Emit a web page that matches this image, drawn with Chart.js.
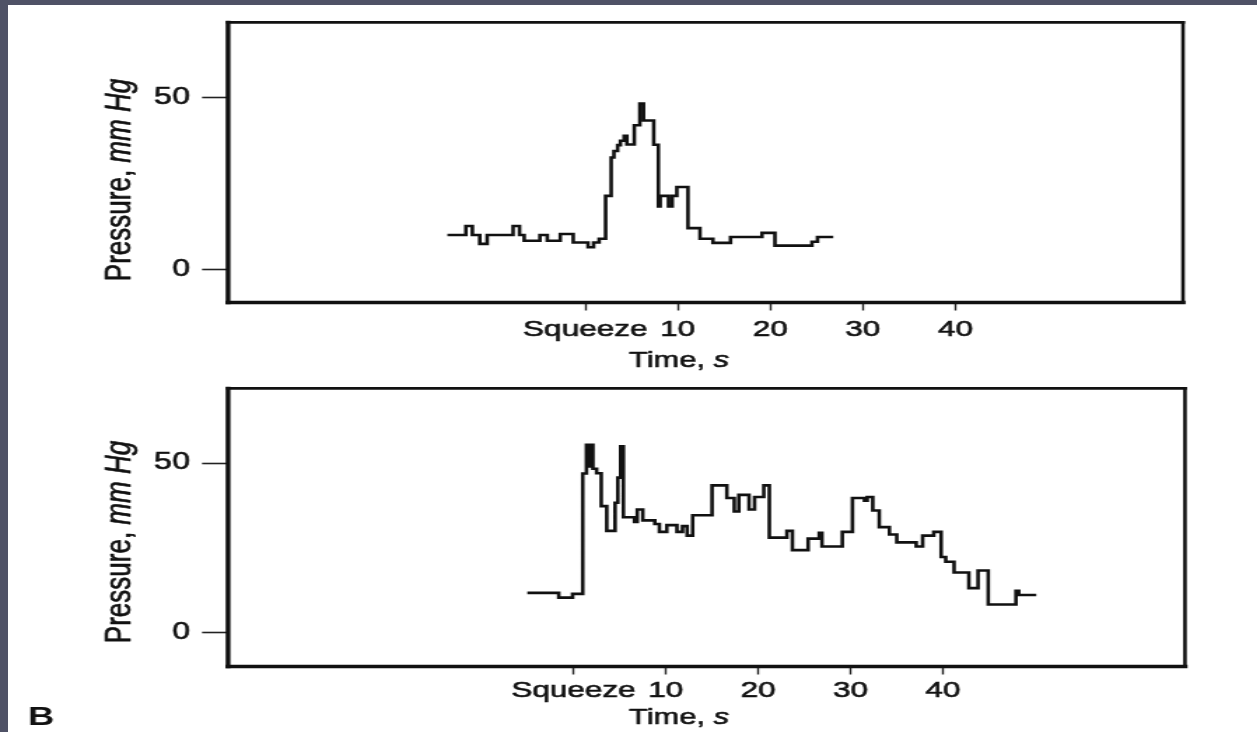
<!DOCTYPE html>
<html>
<head>
<meta charset="utf-8">
<script src="https://cdn.jsdelivr.net/npm/chart.js@4.4.1/dist/chart.umd.min.js"></script>
<style>
  html, body { margin: 0; padding: 0; background: #fff; width: 1257px; height: 732px; overflow: hidden; position: relative; }
  .edge-top { position: absolute; left: 0; top: 0; width: 1257px; height: 5px; background: #4f5266; z-index: 2; }
  .edge-left { position: absolute; left: 0; top: 0; width: 8px; height: 732px; background: #4f5266; z-index: 2; }
  canvas { position: absolute; left: 0; transform: scaleX(1.4); transform-origin: 0 0; }
  #upper { top: 0; }
  #lower { top: 366px; }
</style>
</head>
<body>
<canvas id="upper" width="898" height="378"></canvas>
<canvas id="lower" width="898" height="366"></canvas>
<div class="edge-top"></div>
<div class="edge-left"></div>
<script>
// Time axis ticks (seconds after the squeeze) and their labels
const timeTicks = [0, 10, 20, 30, 40];
const timeTickLabels = ['Squeeze', '10', '20', '30', '40'];
// Pressure axis ticks (mm Hg)
const pressureTicks = [0, 50];

// Upper trace: step start times (s) and pressure held from each time (mm Hg)
const upperTime = [-14.9, -12.9, -12.2, -11.4, -10.6, -7.8, -7.1, -6.6, -4.9, -4.1,
  -2.7, -1.3, 0.3, 0.9, 1.5, 2.2, 2.8, 3.1, 3.5, 3.8,
  4.2, 4.5, 5.3, 5.9, 6.3, 7.4, 7.9, 8.1, 9.0, 9.4,
  9.9, 11.1, 12.4, 13.8, 15.7, 19.1, 20.5, 24.5, 25.1, 26.8];
const upperPressure = [10, 12.6, 10, 7.4, 10, 12.6, 10, 8.3, 10, 8.3,
  10.3, 7.8, 6.4, 7.8, 8.9, 21.4, 32.6, 34.5, 36.2, 37.5,
  38.9, 36.4, 42, 48.3, 43.4, 36.3, 18.3, 21.4, 18.3, 21.4,
  24, 12, 8.9, 7.7, 9.4, 10.6, 6.9, 8, 9.4, 9.4];

// Lower trace: step start times (s) and pressure held from each time (mm Hg)
const lowerTime = [-5.0, -1.6, -0.1, 1.0, 1.4, 1.65, 1.8, 2.1, 2.5, 3.0,
  3.6, 4.5, 4.8, 5.1, 5.4, 6.6, 6.9, 7.5, 8.8, 9.3,
  10.1, 11.2, 11.8, 12.3, 12.9, 15.0, 16.6, 17.4, 17.9, 19.0,
  19.6, 20.6, 21.2, 23.1, 23.7, 25.4, 26.6, 26.9, 29.1, 30.2,
  31.5, 31.8, 32.4, 33.1, 34.2, 35.0, 37.1, 37.8, 39.0, 39.8,
  40.3, 41.2, 42.8, 43.8, 44.9, 47.9, 48.2, 50.1];
const lowerPressure = [11.7, 10.3, 11.4, 46.9, 55.4, 49, 55.4, 48.3, 47, 37.3,
  30, 38.3, 45.7, 54.9, 34, 32.6, 36.3, 33.1, 32, 29.7,
  31.7, 29.7, 31.4, 28.6, 34.6, 43.4, 39.7, 35.7, 40.6, 36.3,
  40, 43.4, 28, 30, 24.3, 27.7, 29.4, 25.4, 29.7, 39.7,
  38.9, 40, 36, 31.1, 28.9, 26.6, 25.4, 28.6, 29.7, 22.3,
  20.9, 17.7, 13.1, 18.3, 8.3, 12.3, 11.1, 11.1];

const FONT = "'Liberation Sans', Arial, Helvetica, sans-serif";
const INK = '#111';

// Draws text made of regular and italic runs, centred on (0,0) of the current transform
function drawRuns(ctx, runs, size) {
  const widths = runs.map(r => {
    ctx.font = (r.italic ? 'italic ' : '') + size + 'px ' + FONT;
    return ctx.measureText(r.text).width;
  });
  let x = -widths.reduce((a, b) => a + b, 0) / 2;
  runs.forEach((r, i) => {
    ctx.font = (r.italic ? 'italic ' : '') + size + 'px ' + FONT;
    ctx.strokeText(r.text, x, 0);
    ctx.fillText(r.text, x, 0);
    x += widths[i];
  });
}

// Frame around the plot area, axis titles and optional panel letter
function panelDecor(cfg) {
  return {
    id: 'panelDecor',
    afterDraw(chart) {
      const ctx = chart.ctx;
      const a = chart.chartArea;
      ctx.save();
      ctx.strokeStyle = INK;
      ctx.lineCap = 'square';
      const seg = (x1, y1, x2, y2, w) => {
        ctx.lineWidth = w;
        ctx.beginPath(); ctx.moveTo(x1, y1); ctx.lineTo(x2, y2); ctx.stroke();
      };
      seg(a.left, a.top, a.right, a.top, 2.8);
      seg(a.right, a.top, a.right, a.bottom, 2.6);
      seg(a.left, a.bottom, a.right, a.bottom, 3.6);
      seg(a.left, a.top, a.left, a.bottom, 3.4);

      ctx.fillStyle = INK;
      ctx.lineWidth = 0.6;
      ctx.lineJoin = 'round';
      ctx.textBaseline = 'alphabetic';
      ctx.textAlign = 'left';
      // time axis title
      ctx.save();
      ctx.translate(cfg.xTitleX, cfg.xTitleY);
      drawRuns(ctx, [{ text: 'Time, ' }, { text: 's', italic: true }], 22);
      ctx.restore();
      // pressure axis title
      ctx.save();
      ctx.translate(cfg.yTitleX, cfg.yTitleY);
      ctx.rotate(-Math.PI / 2);
      drawRuns(ctx, [{ text: 'Pressure, ' }, { text: 'mm Hg', italic: true }], 26);
      ctx.restore();
      if (cfg.letter) {
        ctx.font = 'bold 26px ' + FONT;
        ctx.fillText(cfg.letter, cfg.letterX, cfg.letterY);
      }
      ctx.restore();
    }
  };
}

function makePanel(id, times, pressures, cfg) {
  return new Chart(document.getElementById(id), {
    type: 'line',
    data: {
      datasets: [{
        data: times.map((t, i) => ({ x: t, y: pressures[i] })),
        stepped: 'before',
        borderColor: INK,
        borderWidth: 2.6,
        pointRadius: 0,
        fill: false,
        borderJoinStyle: 'miter',
        borderCapStyle: 'butt'
      }]
    },
    options: {
      responsive: false,
      animation: false,
      devicePixelRatio: 1,
      layout: { padding: { top: cfg.padTop, right: cfg.padRight, left: 0, bottom: 0 } },
      plugins: { legend: { display: false }, tooltip: { enabled: false } },
      scales: {
        x: {
          type: 'linear',
          min: cfg.xMin,
          max: cfg.xMax,
          afterBuildTicks: s => { s.ticks = timeTicks.map(v => ({ value: v })); },
          afterFit: s => { s.height = cfg.xAxisHeight; },
          ticks: {
            autoSkip: false, maxRotation: 0, minRotation: 0,
            padding: cfg.xTickPad, color: INK,
            textStrokeColor: INK, textStrokeWidth: 0.6,
            font: { family: FONT, size: 22.5 },
            callback: (v, i) => timeTickLabels[i]
          },
          grid: { drawOnChartArea: false, drawTicks: true, tickLength: 8, tickWidth: 1.4, tickColor: '#222' },
          border: { display: false }
        },
        y: {
          type: 'linear',
          min: cfg.yMin,
          max: cfg.yMax,
          afterBuildTicks: s => { s.ticks = pressureTicks.map(v => ({ value: v })); },
          afterFit: s => { s.width = 162.9; },
          ticks: {
            padding: 8.6, color: INK,
            textStrokeColor: INK, textStrokeWidth: 0.6,
            font: { family: FONT, size: 23 },
            callback: v => String(v)
          },
          grid: { drawOnChartArea: false, drawTicks: true, tickLength: 18.6, tickWidth: 1.6, tickColor: '#222' },
          border: { display: false }
        }
      }
    },
    plugins: [panelDecor(cfg)]
  });
}

makePanel('upper', upperTime, upperPressure, {
  xMin: -38.6, xMax: 64.6, yMin: -9.7, yMax: 72,
  padTop: 17, padRight: 53, xAxisHeight: 75.5, xTickPad: 6,
  xTitleX: 485, xTitleY: 367, yTitleX: 92.9, yTitleY: 180
});

makePanel('lower', lowerTime, lowerPressure, {
  xMin: -37.4, xMax: 66.2, yMin: -10, yMax: 72,
  padTop: 14, padRight: 51.6, xAxisHeight: 65.5, xTickPad: 3,
  xTitleX: 485, xTitleY: 358, yTitleX: 92.9, yTitleY: 176,
  letter: 'B', letterX: 20, letterY: 359
});
</script>
</body>
</html>
